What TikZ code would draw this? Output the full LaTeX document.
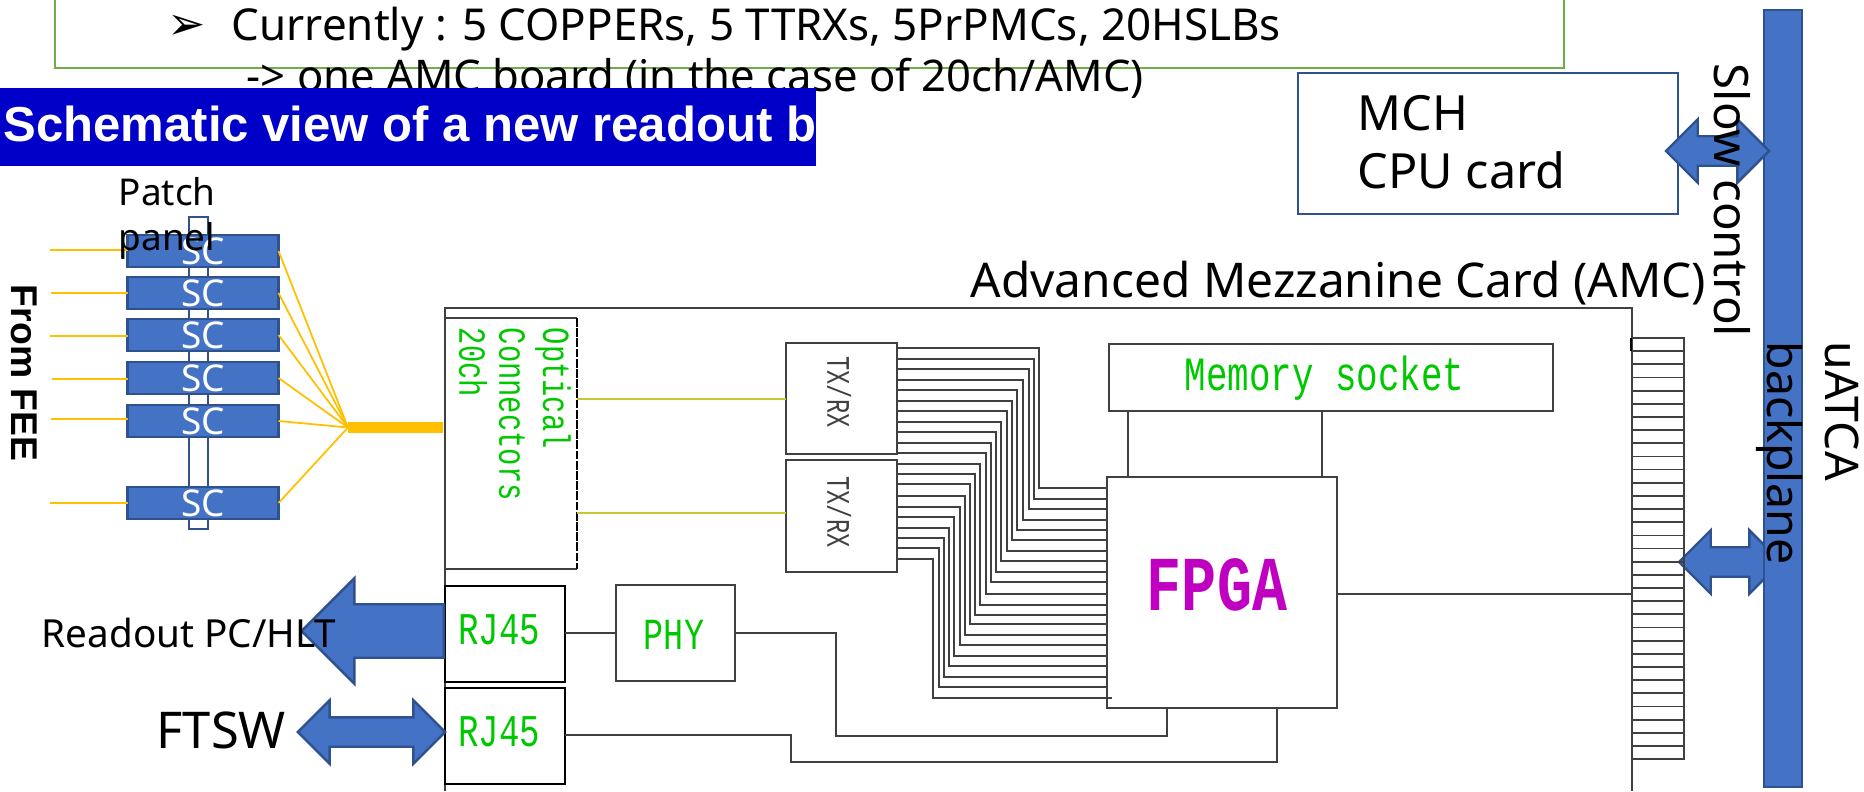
\documentclass[tikz,border=0pt]{standalone}
\usepackage{fontspec}
\setmainfont{Noto Sans}
\newfontfamily\monofont{Liberation Mono}
\newfontfamily\arialfont{Liberation Sans}
\newfontfamily\symbolfont{DejaVu Sans}
\usetikzlibrary{shapes.arrows}
\definecolor{wirecol}{HTML}{404040}
\definecolor{chipgreen}{HTML}{00C800}
\definecolor{fpgacol}{HTML}{C000C0}
\definecolor{blockblue}{HTML}{4472C4}
\definecolor{edgeblue}{HTML}{2F528F}
\definecolor{fibrecol}{HTML}{FFC000}
\definecolor{tracecol}{HTML}{C8C832}
\definecolor{barblue}{HTML}{0000C8}
\definecolor{framegreen}{HTML}{70AD47}
\tikzset{
  wirebox/.style 2 args={draw=wirecol, line width=.5pt, anchor=north west, inner sep=0, outer sep=0,
    minimum width=#1*0.01cm, minimum height=#2*0.01cm},
  bluebox/.style 2 args={draw=edgeblue, fill=blockblue, line width=.7pt, anchor=north west, inner sep=0, outer sep=0,
    minimum width=#1*0.01cm, minimum height=#2*0.01cm},
  wire/.style={draw=wirecol, line width=.5pt},
  fibre/.style={draw=fibrecol, line width=.5pt},
  trace/.style={draw=tracecol, line width=.5pt},
  chiplabel/.style={inner sep=0, text=chipgreen, yscale=1.33},
  thintext/.style={inner sep=0, anchor=base west},
  twoway/.style={double arrow, draw=edgeblue, fill=blockblue, line width=.7pt, inner xsep=0, inner ysep=0.135cm,
    double arrow head extend=0.17cm, double arrow head indent=0cm, minimum width=0.6cm},
}
\begin{document}
\begin{tikzpicture}[x=0.01cm,y=-0.01cm]
\useasboundingbox (0,0) rectangle (1864,791);

\draw[framegreen, line width=.6pt] (55,0) |- (1564,68) -- (1564,0);
\node[inner sep=0, font=\symbolfont\fontsize{13}{15}\selectfont] (bullet) at (187,27) {➢};
\node[thintext, font=\fontsize{12.5}{15}\selectfont] (current) at (231,41) {Currently : 5 COPPERs, 5 TTRXs, 5PrPMCs, 20HSLBs};
\node[thintext, font=\fontsize{12.4}{15}\selectfont] (oneboard) at (246,92) {-> one AMC board (in the case of 20ch/AMC)};

\node[anchor=north west, fill=barblue, minimum width=8.16cm, minimum height=0.78cm, inner sep=0, outer sep=0] (titlebar) at (0,88) {};
\node[thintext, text=white, font=\arialfont\bfseries\fontsize{13.95}{16}\selectfont] (titletext) at (3,142) {Schematic view of a new readout b};

\node[wirebox={380}{141}, draw=edgeblue, line width=.7pt] (mch) at (1298,73) {};
\node[anchor=north west, inner sep=0, align=left, font=\fontsize{13.8}{16.5}\selectfont] (mchlabel) at (1357,95) {MCH\\CPU card};

%backplane
\node[twoway, minimum height=1.02cm] (amcarrow) at (1730,562) {};
\node[bluebox={38}{777}] (backplane) at (1764,10) {};
\node[twoway, minimum height=1.03cm] (slowarrow) at (1717.5,151) {};
\node[rotate=-90, anchor=base west, inner sep=0, font=\fontsize{13.5}{16}\selectfont] (slowlabel) at (1714,63) {Slow control};
\node[rotate=-90, anchor=north west, inner sep=0, align=left, font=\fontsize{13.2}{16.5}\selectfont] (uatca) at (1860,341) {uATCA\\backplane};

%AMC board
\draw[wire] (445,791) |- (1632,308) -- (1632,791);
\node[thintext, font=\fontsize{13.6}{16}\selectfont] (amclabel) at (970,297) {Advanced Mezzanine Card (AMC)};

\draw[wire] (1632,338) rectangle (1684,759);
\foreach \i in {1,...,31} \draw[wire] (1632,338+\i*13.16) -- (1684,338+\i*13.16);
\draw[black, line width=.8pt] (1631,338) -- (1631,351);

%patch panel
\draw[edgeblue, line width=.8pt] (189,217) rectangle (208,529);
\foreach \n/\y/\yin/\xin in {a/235/250/50,b/277/293/51,c/319/336/50,d/362/379/52,e/405/419/51,f/487/503/50}{
  \node[bluebox={151}{32}] (sc\n) at (127.5,\y) {};
  \node[text=white, inner sep=0, font=\fontsize{10.5}{12}\selectfont] (sc\n label) at (sc\n.center) {SC};
  \draw[fibre] (\xin,\yin) -- (sc\n.west |- 0,\yin);
}
\node[thintext, anchor=north west, align=left, font=\fontsize{10.5}{12.8}\selectfont] (patchlabel) at (118,177) {Patch\\panel};
\node[rotate=-90, inner sep=0, font=\arialfont\bfseries\fontsize{10.6}{12}\selectfont] (feelabel) at (24,373) {From FEE};

\node[anchor=north west, fill=fibrecol, inner sep=0, outer sep=0, minimum width=.95cm, minimum height=.11cm] (fibrebar) at (348,422) {};
\foreach \n in {a,b,c,d,e,f} \draw[fibre] (sc\n.east) -- (fibrebar.west);

%optical
\node[anchor=north west, inner sep=0, outer sep=0, minimum width=1.32cm, minimum height=2.51cm] (optical) at (445,318) {};
\draw[wire] (optical.north east) -- (optical.north west) -- (optical.south west) -- (optical.south east);
\draw[black, line width=.5pt, dash pattern=on 2.5pt off .4pt] (optical.north east) -- (optical.south east);
\node[rotate=-90, chiplabel, anchor=west, font=\monofont\fontsize{8.2}{10}\selectfont] (opticaltext) at (553,327) {Optical};
\node[rotate=-90, chiplabel, anchor=west, font=\monofont\fontsize{8.2}{10}\selectfont] (connectortext) at (512,327) {Connectors};
\node[rotate=-90, chiplabel, anchor=west, font=\monofont\fontsize{8.2}{10}\selectfont] (chtext) at (473,327) {20ch};

%transceivers
\node[wirebox={111}{111}] (txrxa) at (786,343) {};
\node[wirebox={111}{112}] (txrxb) at (786,460) {};
\node[rotate=-90, chiplabel, text=wirecol, yscale=1.05, font=\monofont\fontsize{6.7}{8}\selectfont] (txrxatext) at (839,392) {TX/RX};
\node[rotate=-90, chiplabel, text=wirecol, yscale=1.05, font=\monofont\fontsize{6.7}{8}\selectfont] (txrxbtext) at (839,512) {TX/RX};
\draw[trace] (optical.east |- 0,399) -- (txrxa.west |- 0,399);
\draw[trace] (optical.east |- 0,513) -- (txrxb.west |- 0,513);

%FPGA and memory
\node[wirebox={230}{231}] (fpga) at (1107,477) {};
\node[chiplabel, text=fpgacol, font=\monofont\bfseries\fontsize{16.6}{18}\selectfont] (fpgatext) at (1217,585) {FPGA};
\node[wirebox={444}{67}] (memory) at (1109,344) {};
\node[chiplabel, font=\monofont\fontsize{10.2}{12}\selectfont] (memorytext) at (1324.5,378) {Memory socket};
\draw[wire] (1128,411) -- (1128,477);
\draw[wire] (1322,411) -- (1322,477);
\draw[wire] (fpga.east |- 0,594) -- (1632,594);

\foreach \ya/\xm/\yb in {348.3/1039/488,358.7/1034/498.7,369.3/1028.7/509.3,380/1023.3/519.7,390.3/1017/530,400.7/1012/540.3,411/1006.7/550.7,421.7/1001.3/561.3,432/996.3/572,442.7/990.7/582.3,453/985.7/594}
  \draw[wire] (txrxa.east |- 0,\ya) -| (\xm,\yb) -- (fpga.west |- 0,\yb);
\foreach \ya/\xm/\yb in {463.7/980.3/604.7,474/975.3/615,484.3/970/624.3,496/964.7/634.7,506.7/959.7/645,517/954.3/655.7,527.7/949/666,538/944/676.7,548.3/938.7/687}
  \draw[wire] (txrxb.east |- 0,\ya) -| (\xm,\yb) -- (fpga.west |- 0,\yb);
\draw[wire] (txrxb.east |- 0,559) -| (933.3,697.7) -- (1112,697.7);

%RJ45 and PHY
\node[wirebox={120}{96}, draw=black] (rjtop) at (445,586) {};
\node[wirebox={120}{96}, draw=black] (rjbottom) at (445,688) {};
\node[wirebox={119}{96}] (phy) at (616,585) {};
\node[chiplabel, font=\monofont\fontsize{9.7}{12}\selectfont] (rjtoptext) at (499,630) {RJ45};
\node[chiplabel, font=\monofont\fontsize{9.7}{12}\selectfont] (rjbottomtext) at (499,732) {RJ45};
\node[chiplabel, font=\monofont\fontsize{9.5}{12}\selectfont] (phytext) at (674,635) {PHY};
\draw[wire] (rjtop.east |- 0,633) -- (phy.west |- 0,633);
\draw[wire] (phy.east |- 0,633) -| (836,736) -| (fpga.south -| 1167,0);
\draw[wire] (rjbottom.east |- 0,735) -| (791,762) -| (fpga.south -| 1277,0);

\node[single arrow, draw=edgeblue, fill=blockblue, line width=.7pt, inner xsep=0, inner ysep=0.255cm, shape border rotate=180, anchor=tail,
  single arrow head extend=0.26cm, single arrow head indent=0cm, minimum width=1.02cm, minimum height=1.42cm] (pcarrow) at (rjtop.west |- 0,631) {};
\node[twoway, minimum height=1.47cm] (ftswarrow) at (371.5,732) {};
\node[thintext, font=\fontsize{11}{13}\selectfont] (pclabel) at (41,647) {Readout PC/HLT};
\node[thintext, font=\fontsize{14.4}{17}\selectfont] (ftswlabel) at (156,748) {FTSW};
\end{tikzpicture}
\end{document}
